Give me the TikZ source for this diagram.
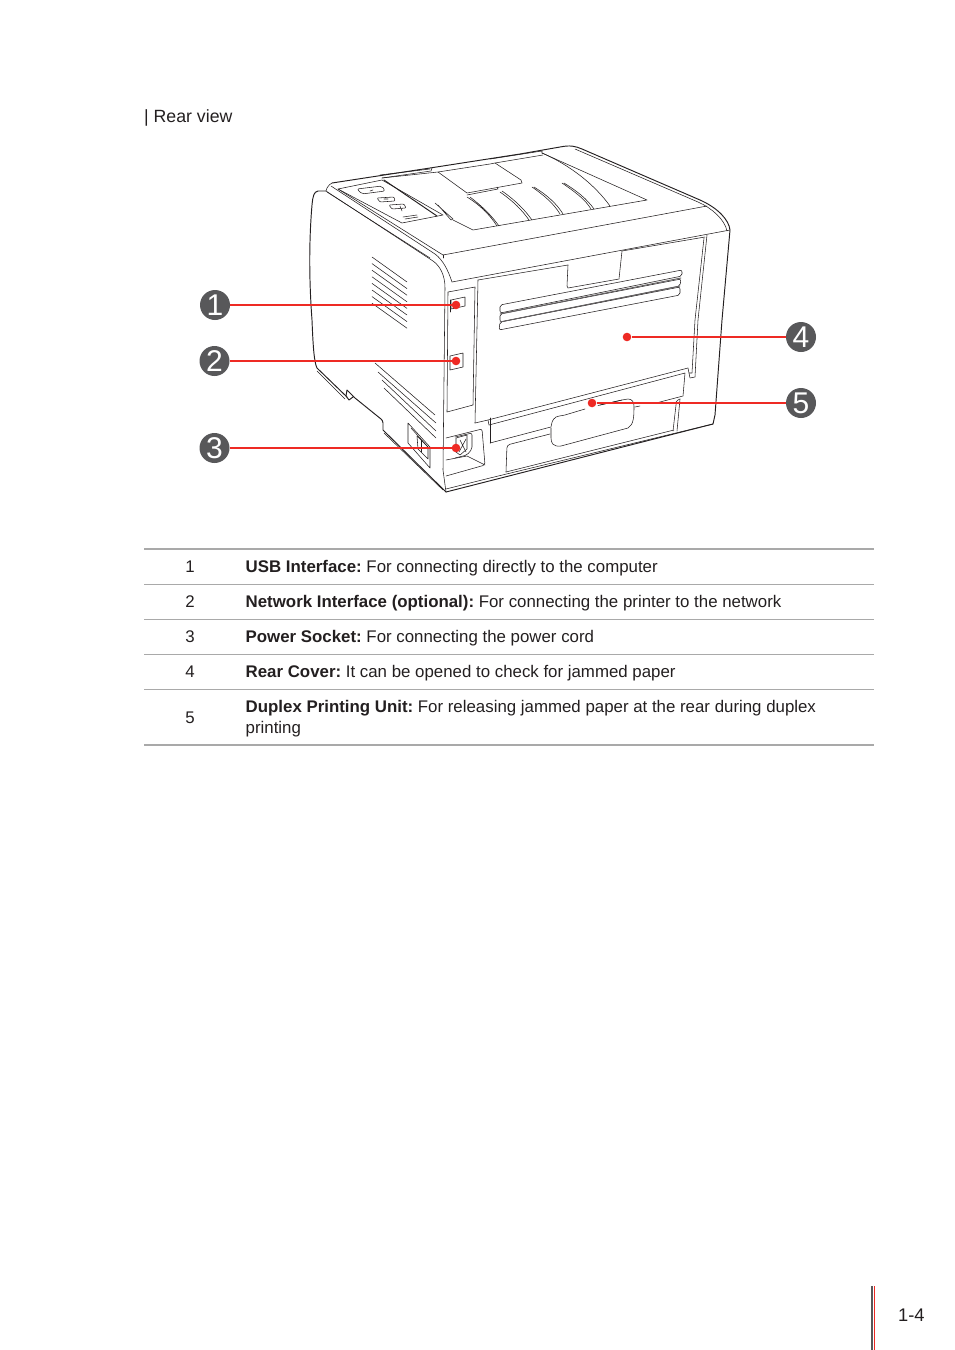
\documentclass[tikz,border=0pt]{standalone}
\usepackage{fontspec}
\setmainfont{Liberation Sans}
\frenchspacing
\definecolor{mark}{HTML}{EE2A24}
\definecolor{badge}{HTML}{58585A}
\definecolor{ink}{HTML}{231F20}
\definecolor{rulec}{HTML}{A9A9A9}
\tikzset{
 pl/.style={draw=ink,line width=0.55pt,line join=round,line cap=round},
 plb/.style={draw=ink,line width=0.95pt,line join=round,line cap=round},
 badgec/.style={circle,fill=badge,minimum size=30pt,inner sep=0pt,text=white,font=\fontsize{30}{30}\selectfont},
 dot/.style={circle,fill=mark,minimum size=8.6pt,inner sep=0pt},
 lead/.style={draw=mark,line width=1.9pt},
 txt/.style={anchor=base west,inner sep=0pt,text=ink,font=\fontsize{16.85}{20}\selectfont},
 num/.style={anchor=base,inner sep=0pt,text=ink,font=\fontsize{16.85}{20}\selectfont},
 rulethin/.style={draw=rulec,line width=0.9pt},
 rulethick/.style={draw=rulec,line width=1.9pt}
}
\begin{document}
\begin{tikzpicture}[x=1pt,y=-1pt]
\useasboundingbox (0,0) rectangle (954,1350);
\node[txt,font=\fontsize{17.7}{20}\selectfont] (title) at (144,122) {| Rear view};
% ---- printer outline
\path[plb] (446,492) -- (383,430) -- (383,423) .. controls (383,421) and (382,420) .. (381,419) -- (355,398) -- (347,390) -- (346,396) -- (349,400) -- (353,397);
\path[plb] (347,397) -- (317,368) .. controls (314,362) and (313,345) .. (312,320) .. controls (309,280) and (309,240) .. (312,205) .. controls (313,195) and (314,192) .. (318,191) -- (326,191);
\path[plb] (332,183) -- (430,168) -- (520,154) -- (560,147) .. controls (570,145) and (575,146) .. (582,149) -- (700,200) .. controls (718,208) and (729,220) .. (730,230) -- (722,320) -- (715,415) -- (713,424) -- (446,492);
\path[pl] (326,191) -- (327,188) .. controls (329,185) and (330,184) .. (332,183);
\path[pl] (326,191) -- (433,261) .. controls (440,266) and (445,275) .. (445,288) -- (443,470) -- (446,492);
\path[pl] (331,186) -- (435,254) .. controls (443,260) and (448,270) .. (452,282);
\path[pl] (327,192) -- (430,258);
\path[pl] (317,371) -- (345,399);
\path[pl] (384,433) -- (443,490);
% top surface
\path[pl] (338,189) -- (382,180) -- (443,215) -- (402,223) -- cycle;
\path[pl] (382,178) -- (438,172) -- (467,193);
\path[pl] (453,220) -- (473,230) -- (647,200) -- (542,153);
\path[plb] (384,180) -- (437,216);
\path[pl] (435,203) -- (453,219) -- (451,220) -- (438,205);
\path[pl] (443,255) -- (707,206);
\path[pl] (575,149) -- (698,202) .. controls (712,208) and (725,220) .. (727,231);
\path[pl] (338,189) -- (443,255);
\path[pl] (443,255) -- (443,258);
\path[pl] (380,175) -- (430,169);
\path[pl] (382,178) -- (431,171) -- (432,168);
\path[pl] (490,159) -- (542,151) -- (542,153);
\path[pl] (495,163) -- (543,155);
\path[pl] (438,172) -- (490,164) -- (495,163) -- (521,180) -- (522,183) -- (467,193);
\path[pl] (467,195) -- (498,189) -- (497,187);
\path[pl] (467,197) .. controls (480,205) and (490,215) .. (497,226) (470,197) .. controls (482,206) and (492,216) .. (499,226);
\path[pl] (500,192) .. controls (513,201) and (522,210) .. (529,220) (502,191) .. controls (515,200) and (525,210) .. (532,220);
\path[pl] (532,187) .. controls (545,196) and (554,204) .. (560,214) (534,187) .. controls (547,195) and (557,204) .. (563,214);
\path[pl] (562,183) .. controls (575,192) and (585,199) .. (591,209) (564,183) .. controls (577,191) and (587,199) .. (594,209);
\path[pl] (542,153) .. controls (570,165) and (595,185) .. (610,206);
% control panel
\path[pl,rounded corners=2pt] (357,189) -- (382,186) -- (385,191) -- (362,194) -- cycle;
\path[pl,rounded corners=1pt] (377,198) -- (394,197) -- (395,201) -- (380,202) -- cycle;
\path[pl,rounded corners=1pt] (389,205) -- (404,204) -- (406,208) -- (392,209) -- cycle;
\path[pl] (403,217) -- (417,215) (405,219) -- (418,217);
\path[pl] (370,191) -- (373,190) (384,199) -- (388,199) (400,206) -- (402,211);
% side vents
\foreach \i in {0,...,7}{\path[pl] (372,{257+6.6*\i}) -- (407,{282+6.6*\i});}
\path[pl] (375,363) -- (435,415);
\path[pl] (378,372) -- (436,423);
\path[pl] (382,380) -- (436,431);
\path[pl] (384,388) -- (436,438);
% side socket
\path[pl] (408,423) -- (430,447) -- (430,468) -- (408,443) -- cycle;
\path[pl] (411,428) -- (428,447);
\path[pl] (417,436) -- (428,447) -- (428,459) -- (418,449) -- cycle;
\path[pl] (421,440) -- (421,452);
% rear: ports
\path[pl] (452,282) -- (730,230);
\path[pl] (478,280) -- (568,265);
\path[pl] (568,265) -- (567,286) -- (568,288) -- (619,279) -- (622,251);
\path[pl] (622,251) -- (705,237);
\path[pl] (448,292) -- (475,287) -- (473,405) -- (447,412) -- cycle;
\path[pl] (478,280) -- (475,423);
\path[pl] (451,300) -- (465,297) -- (465,306) -- (451,309) -- cycle;
\path[plb] (450,300) -- (450,312);
\path[pl] (450,356) -- (463,353) -- (463,367) -- (450,370) -- cycle;
% rear cover slots
\path[pl,rounded corners=2pt] (500,305) -- (682,270) -- (682,276) -- (500,313) -- cycle;
\path[pl,rounded corners=2pt] (500,314) -- (681,279) -- (680,286) -- (500,322) -- cycle;
\path[pl,rounded corners=2pt] (500,322) -- (680,287) -- (680,295) -- (499,330) -- cycle;
\path[plb,draw=ink!70] (500,314) -- (681,278) (500,322) -- (680,286);
% rear cover right edge
\path[pl] (707,235) -- (698,320) -- (695,377) -- (690,378) -- (688,368);
\path[pl] (704,238) -- (695,320) -- (692,373) -- (689,373);
% duplex
\path[pl] (475,423) -- (488,420) -- (688,368);
\path[pl] (488,420) -- (489,425);
\path[pl] (489,425) -- (685,373) -- (683,396) -- (658,402.5);
\path[pl] (622,400) -- (600,405);
\path[pl] (490,443) -- (490,418);
\path[pl] (490,443) -- (547,428) -- (551,427) .. controls (552,422) and (552,420) .. (556,417) .. controls (558,416) and (560,416) .. (565,415) -- (585,409);
\path[pl] (598,405.5) -- (622,400) -- (628,399) .. controls (632,399) and (634,402) .. (634,406) .. controls (634,415) and (634,425) .. (628,428) -- (561,446) .. controls (553,447) and (551,443) .. (551,438) -- (551,428);
\path[pl] (635,407) -- (640,406);
% lower panel
\path[pl,rounded corners=3pt] (506,472) -- (507,445) -- (550,434);
\path[pl] (506,472) -- (674,430);
\path[pl] (446,489) -- (490,478) -- (713,424);
\path[pl] (680,399) -- (678,400) .. controls (676,401) and (676,402) .. (676,405) -- (673,431) ;
\path[pl] (680,399) -- (677,431);
% power recess
\path[pl,rounded corners=2pt] (446,438) -- (482,429) -- (485,465) -- (446,476);
\path[pl] (446,460) -- (467,456) -- (485,465);
\path[pl,rounded corners=2pt] (455,437) -- (472,433) -- (472,449) -- (467,455) -- (455,458);
\path[pl] (456,438) -- (467,435) -- (467,449) -- (460,455) -- (456,452) -- cycle;
\path[pl] (460,440) -- (466,452) (466,439) -- (459,452);
% ---- call-outs
\node[badgec] (b1) at (215,305) {1};
\node[badgec] (b2) at (214.5,361) {2};
\node[badgec] (b3) at (214.5,448) {3};
\node[badgec] (b4) at (801,337) {4};
\node[badgec] (b5) at (801,403) {5};
\node[dot] (d1) at (456,305) {};
\node[dot] (d2) at (456,361) {};
\node[dot] (d3) at (456,448) {};
\node[dot] (d4) at (627,337) {};
\node[dot] (d5) at (592,403) {};
\draw[lead] (b1) -- (d1);
\draw[lead,line width=2.5pt] (b2) -- (d2);
\draw[lead] (b3) -- (d3);
\draw[lead] (b4) -- (d4);
\draw[lead] (b5) -- (d5);
% ---- table
\coordinate (r0a) at (144,549); \coordinate (r0b) at (874,549);
\coordinate (r1a) at (144,584.5); \coordinate (r1b) at (874,584.5);
\coordinate (r2a) at (144,619.5); \coordinate (r2b) at (874,619.5);
\coordinate (r3a) at (144,654.5); \coordinate (r3b) at (874,654.5);
\coordinate (r4a) at (144,689.5); \coordinate (r4b) at (874,689.5);
\coordinate (r5a) at (144,745); \coordinate (r5b) at (874,745);
\draw[rulethick] (r0a) -- (r0b);
\draw[rulethin] (r1a) -- (r1b);
\draw[rulethin] (r2a) -- (r2b);
\draw[rulethin] (r3a) -- (r3b);
\draw[rulethin] (r4a) -- (r4b);
\draw[rulethick] (r5a) -- (r5b);
\node[num] (n1) at (190,572) {1};
\node[num] (n2) at (190,607) {2};
\node[num] (n3) at (190,642) {3};
\node[num] (n4) at (190,677) {4};
\node[num] (n5) at (190,723) {5};
\node[txt] (t1) at (245.5,572) {\textbf{USB Interface:} For connecting directly to the computer};
\node[txt] (t2) at (245.5,607) {\textbf{Network Interface (optional):} For connecting the printer to the network};
\node[txt] (t3) at (245.5,642) {\textbf{Power Socket:} For connecting the power cord};
\node[txt] (t4) at (245.5,677) {\textbf{Rear Cover:} It can be opened to check for jammed paper};
\node[txt] (t5) at (245.5,712.5) {\textbf{Duplex Printing Unit:} For releasing jammed paper at the rear during duplex};
\node[txt] (t6) at (245.5,733.5) {printing};
% ---- footer
\coordinate (f1a) at (872,1286); \coordinate (f1b) at (872,1350);
\coordinate (f2a) at (874.5,1286); \coordinate (f2b) at (874.5,1350);
\draw[draw=badge,line width=2pt] (f1a) -- (f1b);
\draw[draw=mark,line width=1pt] (f2a) -- (f2b);
\node[txt,font=\fontsize{18.3}{20}\selectfont] (pg) at (898,1321) {1-4};
\end{tikzpicture}
\end{document}
